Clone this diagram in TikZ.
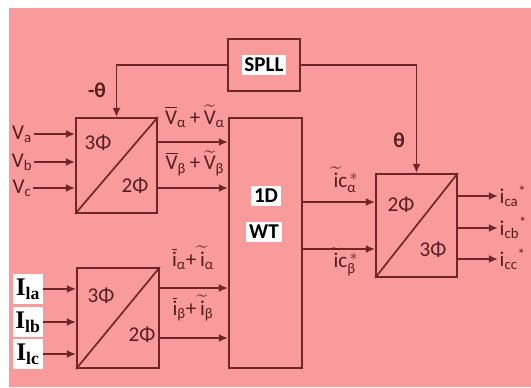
\documentclass[tikz,border=0pt]{standalone}
\usepackage{fontspec}
\usepackage{amsmath}
\setmainfont{Carlito}
\newfontfamily\timesbf{Liberation Serif}
\usetikzlibrary{arrows.meta}
\definecolor{bgpink}{RGB}{250,155,155}
\definecolor{wirecol}{RGB}{110,38,38}
\definecolor{ink}{RGB}{85,30,30}
\def\unitpx{0.25mm}
\newcommand{\barsym}[2]{$\overline{\text{#1}}_{\text{#2}}$}
\newcommand{\tilsym}[2]{$\widetilde{\text{#1}}_{\text{#2}}$}

\begin{document}
\begin{tikzpicture}[
  x=\unitpx, y=-\unitpx,
  font=\fontsize{15}{17}\selectfont,
  blk/.style={draw=wirecol, line width=1.3pt, inner sep=0pt},
  lbl/.style={text=ink, inner sep=1pt},
  tag/.style={fill=white, text=black, inner sep=2pt, font=\fontsize{15}{17}\selectfont\bfseries},
  itag/.style={fill=white, text=black, inner sep=1pt, minimum width=30*\unitpx, minimum height=30*\unitpx, font=\fontsize{18}{20}\timesbf\bfseries},
  arr/.style={-{Latex[length=2.3mm, width=2mm]}, draw=wirecol, line width=1.3pt}
]
\useasboundingbox (0,0) rectangle (531,387);
\fill[bgpink] (9,8) rectangle (531,387);

% blocks
\node[blk, minimum width=72*\unitpx, minimum height=52*\unitpx] (spll) at (264,65) {};
\node[tag] at (spll) {SPLL};
\node[blk, minimum width=81*\unitpx, minimum height=95*\unitpx] (vconv) at (116.5,165.5) {};
\node[blk, minimum width=82*\unitpx, minimum height=100*\unitpx] (iconv) at (118,318) {};
\node[blk, minimum width=73*\unitpx, minimum height=250*\unitpx] (wt) at (265.5,243) {};
\node[blk, minimum width=81*\unitpx, minimum height=103*\unitpx] (aconv) at (416.5,225.5) {};
\node[tag] at (266,196) {1D};
\node[tag] at (264,232) {WT};

\draw[draw=wirecol, line width=1.2pt] (vconv.south west) -- (vconv.north east);
\draw[draw=wirecol, line width=1.2pt] (iconv.south west) -- (iconv.north east);
\draw[draw=wirecol, line width=1.2pt] (aconv.south west) -- (aconv.north east);
\node[lbl] at (98,143) {3Φ};
\node[lbl] at (135,186) {2Φ};
\node[lbl] at (101,296) {3Φ};
\node[lbl] at (142,335) {2Φ};
\node[lbl] at (401,205) {2Φ};
\node[lbl] at (433,250) {3Φ};

% inputs
\node[lbl] (va) at (22,134) {V\textsubscript{a}};
\node[lbl] (vb) at (22,162) {V\textsubscript{b}};
\node[lbl] (vc) at (22,188) {V\textsubscript{c}};
\node[itag] (ia) at (28,289) {I\textsubscript{la}};
\node[itag] (ib) at (28,322) {I\textsubscript{lb}};
\node[itag] (ic) at (28,354) {I\textsubscript{lc}};
\foreach \n in {va,vb,vc}
  \draw[arr] (\n.east) -- (\n.east -| vconv.west);
\foreach \n in {ia,ib,ic}
  \draw[arr] (\n.east) -- (\n.east -| iconv.west);

% SPLL angles
\draw[arr] (spll.west) -| (vconv.north);
\draw[arr] (spll.east) -| (aconv.north);
\node[lbl] at (97,90) {\textbf{-θ}};
\node[lbl] at (399,140) {\textbf{θ}};

% alpha-beta signals
\draw[arr] (vconv.east |- 0,142) -- (wt.west |- 0,142);
\draw[arr] (vconv.east |- 0,188) -- (wt.west |- 0,188);
\draw[arr] (iconv.east |- 0,288) -- (wt.west |- 0,288);
\draw[arr] (iconv.east |- 0,338) -- (wt.west |- 0,338);
\node[lbl] at (195,116) {\barsym{V}{α}\,+\,\tilsym{V}{α}};
\node[lbl] at (195,163) {\barsym{V}{β}\,+\,\tilsym{V}{β}};
\node[lbl] at (193,258) {\barsym{i}{α}+\,\tilsym{i}{α}};
\node[lbl] at (193,308) {\barsym{i}{β}+\,\tilsym{i}{β}};

\draw[arr] (wt.east |- 0,202) -- (aconv.west |- 0,202);
\draw[arr] (wt.east |- 0,249) -- (aconv.west |- 0,249);
\node[lbl] at (346,180) {$\widetilde{\text{i}}\text{c}_{\text{α}}^{\,*}$};
\node[lbl] at (346,262) {$\widetilde{\text{i}}\text{c}_{\text{β}}^{\,*}$};

% reference currents
\node[lbl, anchor=west] (ica) at (498,196) {i\textsubscript{ca}\textsuperscript{*}};
\node[lbl, anchor=west] (icb) at (498,228) {i\textsubscript{cb}\textsuperscript{*}};
\node[lbl, anchor=west] (icc) at (498,259) {i\textsubscript{cc}\textsuperscript{*}};
\foreach \n in {ica,icb,icc}
  \draw[arr] (aconv.east |- \n.west) -- (\n.west);
\end{tikzpicture}
\end{document}
